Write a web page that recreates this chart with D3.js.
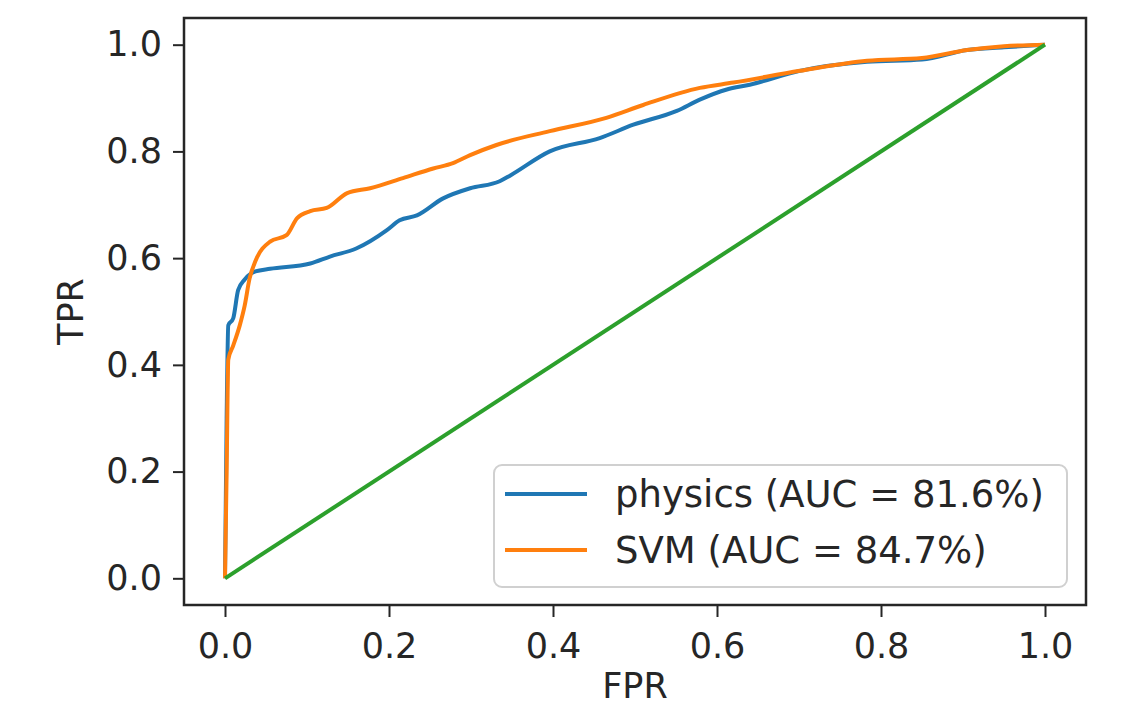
<!DOCTYPE html>
<html>
    <head>
        <meta charset="utf-8">
        <title>ROC curves</title>
        <style>
body {
    margin: 0;
    background-color: white;
}

svg {
    display: block;
}

text {
    font-family: "DejaVu Sans", sans-serif;
    fill: #262626;
}

.tick text {
    font-size: 35px;
}

.tick line {
    stroke: #262626;
    stroke-width: 2;
}

.curve {
    fill: none;
    stroke-width: 4;
    stroke-linejoin: round;
}

</style>
        <script src="https://cdn.jsdelivr.net/npm/d3@7"></script>
    </head>
    <body>
        <script>
// values
var physicsFpr = [0, 0.002, 0.004, 0.01, 0.016, 0.024, 0.037, 0.055, 0.104, 0.128, 0.16, 0.197, 0.213, 0.234, 0.266, 0.299, 0.335, 0.348, 0.396, 0.457, 0.498, 0.551, 0.579, 0.612, 0.64, 0.701, 0.783, 0.85, 0.905, 0.95, 1.0];
var physicsTpr = [0, 0.3, 0.474, 0.487, 0.54, 0.56, 0.575, 0.58, 0.59, 0.603, 0.618, 0.652, 0.671, 0.68, 0.712, 0.731, 0.744, 0.755, 0.80, 0.825, 0.85, 0.876, 0.897, 0.916, 0.925, 0.951, 0.968, 0.972, 0.99, 0.995, 1.0];

var svmFpr = [0, 0.002, 0.004, 0.01, 0.018, 0.024, 0.03, 0.037, 0.055, 0.075, 0.088, 0.104, 0.124, 0.149, 0.177, 0.217, 0.254, 0.278, 0.299, 0.331, 0.396, 0.465, 0.51, 0.579, 0.62, 0.701, 0.783, 0.85, 0.905, 0.95, 1.0];
var svmTpr = [0, 0.2, 0.41, 0.436, 0.474, 0.511, 0.562, 0.594, 0.631, 0.643, 0.675, 0.688, 0.694, 0.722, 0.731, 0.75, 0.768, 0.778, 0.793, 0.812, 0.838, 0.863, 0.887, 0.919, 0.929, 0.951, 0.97, 0.975, 0.99, 0.997, 1.0];

var chanceFpr = [0, 1];
var chanceTpr = [0, 1];

var seriesNames = ["physics (AUC = 81.6%)", "SVM (AUC = 84.7%)"];
var seriesColors = ["#1f77b4", "#ff7f0e", "#2ca02c"];
var tickValues = [0, 0.2, 0.4, 0.6, 0.8, 1.0];

var width = 1127,
    height = 707;

var plotLeft = 184, plotRight = 1086, plotTop = 18, plotBottom = 605;

var svg = d3.select('body')
    .append('svg')
    .attr('width', width)
    .attr('height', height);

svg.append("rect")
    .attr("width", width)
    .attr("height", height)
    .attr("fill", "white");

var x = d3.scaleLinear().domain([-0.05, 1.05]).range([plotLeft, plotRight]);
var y = d3.scaleLinear().domain([-0.05, 1.05]).range([plotBottom, plotTop]);

var line = d3.line()
    .curve(d3.curveMonotoneX)
    .x(function (d) { return x(d[0]); })
    .y(function (d) { return y(d[1]); });

var curves = [
    d3.zip(physicsFpr, physicsTpr),
    d3.zip(svmFpr, svmTpr),
    d3.zip(chanceFpr, chanceTpr)
];

svg.append("g")
    .selectAll("path.curve")
    .data(curves)
    .enter()
    .append("path")
    .attr("class", "curve")
    .attr("stroke", function (d, i) { return seriesColors[i]; })
    .attr("d", line);

// axes
var xAxis = svg.append("g")
    .attr("transform", "translate(0," + plotBottom + ")")
    .call(d3.axisBottom(x).tickValues(tickValues).tickFormat(d3.format(".1f")).tickSize(12).tickPadding(16));

var yAxis = svg.append("g")
    .attr("transform", "translate(" + plotLeft + ",0)")
    .call(d3.axisLeft(y).tickValues(tickValues).tickFormat(d3.format(".1f")).tickSize(11).tickPadding(11));

svg.selectAll(".domain").remove();
xAxis.attr("font-family", null).attr("font-size", null);
yAxis.attr("font-family", null).attr("font-size", null);

// frame
svg.append("rect")
    .attr("x", plotLeft)
    .attr("y", plotTop)
    .attr("width", plotRight - plotLeft)
    .attr("height", plotBottom - plotTop)
    .attr("fill", "none")
    .attr("stroke", "#262626")
    .attr("stroke-width", 2.5);

svg.append("text")
    .attr("x", (plotLeft + plotRight) / 2)
    .attr("y", 698)
    .attr("text-anchor", "middle")
    .attr("font-size", 35)
    .text("FPR");

svg.append("text")
    .attr("transform", "translate(83," + (plotTop + plotBottom) / 2 + ") rotate(-90)")
    .attr("text-anchor", "middle")
    .attr("font-size", 35)
    .text("TPR");

// legend
var legend = svg.append("g");

legend.append("rect")
    .attr("x", 494)
    .attr("y", 465)
    .attr("width", 573)
    .attr("height", 122)
    .attr("rx", 8)
    .attr("fill", "white")
    .attr("fill-opacity", 0.8)
    .attr("stroke", "#d0d0d0")
    .attr("stroke-width", 2);

var items = legend.selectAll("g.item")
    .data(seriesNames)
    .enter()
    .append("g")
    .attr("transform", function (d, i) { return "translate(0," + (494 + i * 56) + ")"; });

items.append("line")
    .attr("x1", 505)
    .attr("x2", 587)
    .attr("stroke", function (d, i) { return seriesColors[i]; })
    .attr("stroke-width", 4);

items.append("text")
    .attr("x", 615)
    .attr("dy", "0.35em")
    .attr("font-size", 37)
    .text(function (d) { return d; });

        </script>
    </body>
</html>
